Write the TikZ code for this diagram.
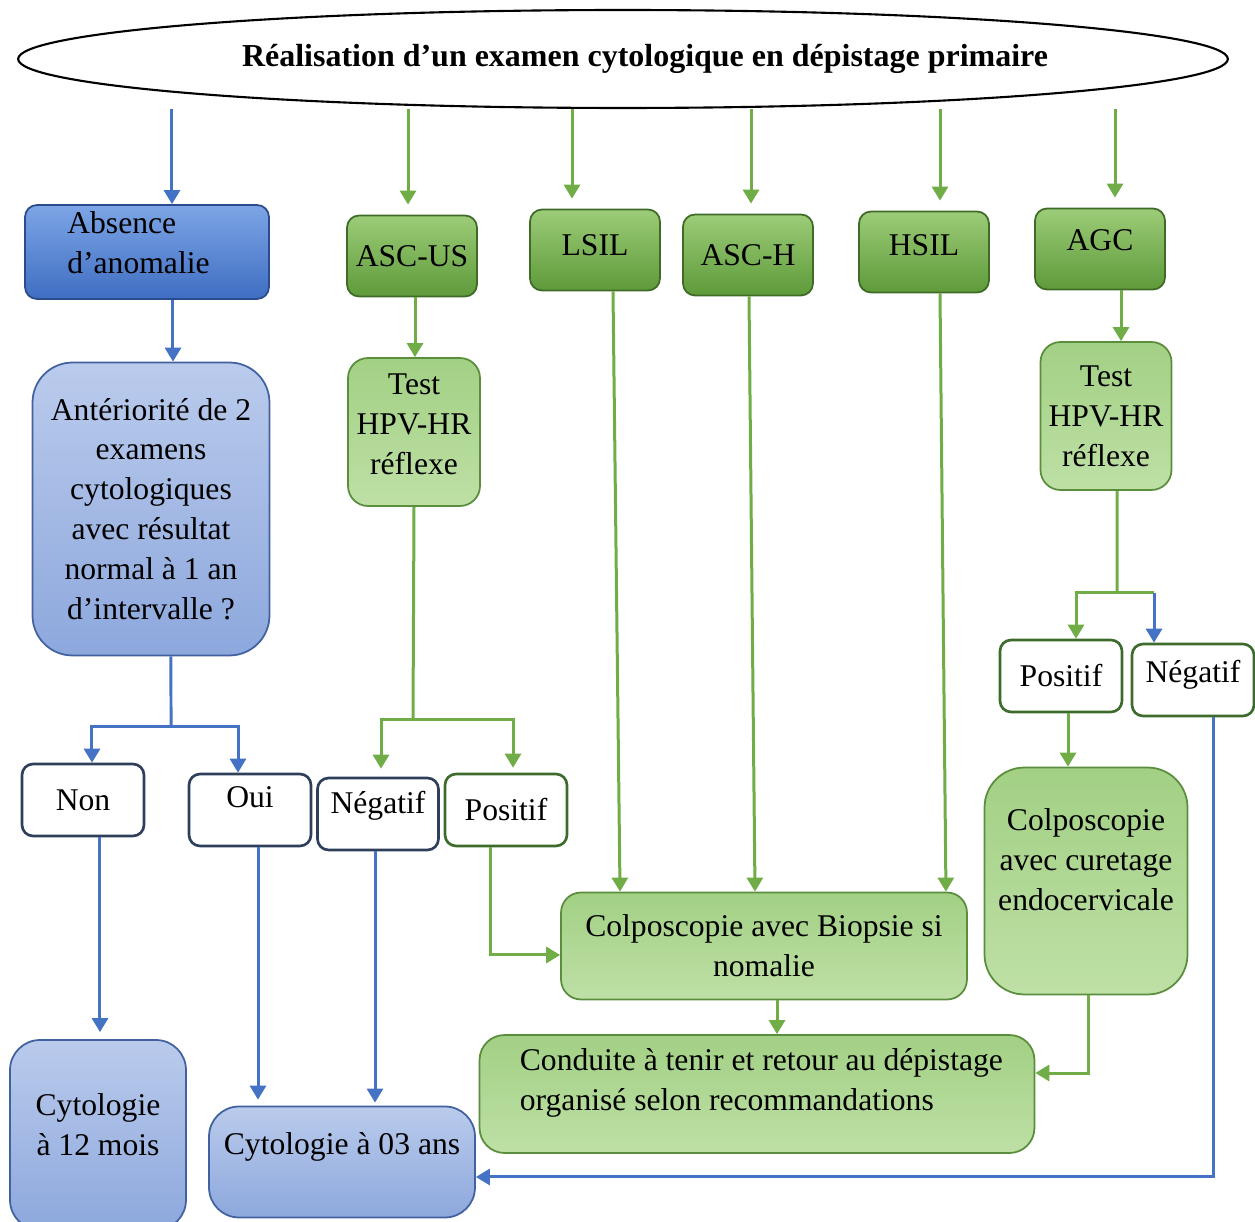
\documentclass[tikz,border=0pt]{standalone}
\usepackage{fontspec}
\setmainfont{Liberation Serif}
\usetikzlibrary{shapes.geometric,arrows.meta,calc}
\definecolor{arrBlue}{HTML}{4472C4}
\definecolor{arrGreen}{HTML}{70AD47}
\definecolor{grnTop}{HTML}{9CCC78}
\definecolor{grnBot}{HTML}{5E9A3A}
\definecolor{grnLine}{HTML}{3F6B27}
\definecolor{lgrnTop}{HTML}{A2D084}
\definecolor{lgrnBot}{HTML}{BEE0A6}
\definecolor{lgrnLine}{HTML}{5B8E3C}
\definecolor{dbTop}{HTML}{7DA5E6}
\definecolor{dbBot}{HTML}{3F6EC2}
\definecolor{dbLine}{HTML}{2B4C8C}
\definecolor{lbTop}{HTML}{BACBEC}
\definecolor{lbBot}{HTML}{8DA8DD}
\definecolor{lbLine}{HTML}{41619F}
\definecolor{navyLine}{HTML}{2E3F5C}
\definecolor{olLine}{HTML}{3D6B2C}

\begin{document}
\begin{tikzpicture}[x=0.02cm,y=-0.02cm,font=\fontsize{18}{22.7}\selectfont,
    cbox/.style={rounded corners=0.24cm,line width=1pt,inner sep=0pt,align=center},
    grn/.style={cbox,draw=grnLine,top color=grnTop,bottom color=grnBot,minimum width=2.6cm,minimum height=1.62cm},
    lgrn/.style={cbox,draw=lgrnLine,top color=lgrnTop,bottom color=lgrnBot},
    dblue/.style={cbox,draw=dbLine,top color=dbTop,bottom color=dbBot},
    lblue/.style={cbox,draw=lbLine,top color=lbTop,bottom color=lbBot},
    outl/.style={cbox,fill=white,line width=1.5pt,minimum width=2.44cm,minimum height=1.44cm,rounded corners=0.22cm},
    bline/.style={draw=arrBlue,line width=0.06cm},
    gline/.style={draw=arrGreen,line width=0.06cm},
    barrow/.style={bline,-{Triangle[length=0.28cm,width=0.32cm]}},
    garrow/.style={gline,-{Triangle[length=0.28cm,width=0.32cm]}}]
  \useasboundingbox (0,0) rectangle (1255,1222);

  % title
  \node[draw,ellipse,line width=1.2pt,minimum width=24.2cm,minimum height=1.96cm,inner sep=0pt,
    label={[xshift=0.44cm,font=\fontsize{18.2}{21}\selectfont\bfseries]center:Réalisation d’un examen cytologique en dépistage primaire}]
    (title) at (623,59) {};

  % first row
  \node[dblue,minimum width=4.88cm,minimum height=1.88cm,
    label={[anchor=west,xshift=0.74cm,yshift=0.18cm,align=left]west:Absence\\d’anomalie}] (absence) at (147,252) {};
  \node[grn] (ascus) at (412,256) {ASC-US};
  \node[grn,label={[yshift=0.1cm]center:LSIL}] (lsil) at (595,250) {};
  \node[grn] (asch) at (748,255) {ASC-H};
  \node[grn,label={[yshift=0.14cm]center:HSIL}] (hsil) at (924,252) {};
  \node[grn,label={[yshift=0.18cm]center:AGC}] (agc) at (1100,249) {};

  % second row
  \node[lblue,rounded corners=0.8cm,minimum width=4.74cm,minimum height=5.86cm] (ant) at (151,509)
    {Antériorité de 2\\examens\\cytologiques\\avec résultat\\normal à 1 an\\d’intervalle ?};
  \node[lgrn,rounded corners=0.4cm,minimum width=2.64cm,minimum height=2.96cm,
    label={[yshift=0.16cm,align=center]center:Test\\HPV-HR\\réflexe}] (testL) at (414,432) {};
  \node[lgrn,rounded corners=0.4cm,minimum width=2.62cm,minimum height=2.96cm] (testR) at (1106,416)
    {Test\\HPV-HR\\réflexe};

  % results
  \node[outl,draw=navyLine] (non) at (83,800) {Non};
  \node[outl,draw=navyLine,label={[yshift=0.26cm]center:Oui}] (oui) at (250,810) {};
  \node[outl,draw=navyLine,minimum width=2.42cm,label={[yshift=0.16cm]center:Négatif}] (negM) at (378,814) {};
  \node[outl,draw=olLine] (posM) at (506,810) {Positif};
  \node[outl,draw=olLine] (posR) at (1061,676) {Positif};
  \node[outl,draw=olLine,label={[yshift=0.1cm]center:Négatif}] (negR) at (1193,680) {};

  % bottom
  \node[lgrn,rounded corners=0.4cm,minimum width=8.12cm,minimum height=2.14cm] (colpoB) at (764,946)
    {Colposcopie avec Biopsie si\\nomalie};
  \node[lgrn,rounded corners=0.8cm,minimum width=4.06cm,minimum height=4.54cm,
    label={[yshift=0.42cm,align=center]center:Colposcopie\\avec curetage\\endocervicale}] (colpoC) at (1086,881) {};
  \node[lgrn,rounded corners=0.5cm,minimum width=11.1cm,minimum height=2.36cm,
    label={[anchor=west,xshift=0.7cm,yshift=0.22cm,align=left]west:Conduite à tenir et retour au dépistage\\organisé selon recommandations}] (conduite) at (757,1094) {};
  \node[lblue,rounded corners=0.6cm,minimum width=3.52cm,minimum height=3.8cm,
    label={[yshift=0.2cm,align=center]center:Cytologie\\à 12 mois}] (cyto12) at (98,1135) {};
  \node[lblue,rounded corners=0.6cm,minimum width=5.32cm,minimum height=2.22cm,
    label={[yshift=0.3cm]center:Cytologie à 03 ans}] (cyto03) at (342,1162) {};

  % from the title
  \draw[barrow] ([xshift=0.5cm]absence.north |- title.south) -- ([xshift=0.5cm]absence.north);
  \foreach \n/\dx in {ascus/-0.08,lsil/-0.46,asch/0.06,hsil/0.32,agc/0.3}
    \draw[garrow,shorten >=0.2cm] ([xshift=\dx cm]\n.north |- title.south) -- ([xshift=\dx cm]\n.north);

  % normal branch
  \draw[barrow] ([xshift=0.52cm]absence.south) -- ([xshift=0.52cm]absence.south |- ant.north);
  \coordinate (antsplit) at (171,727);
  \draw[bline] ([xshift=0.4cm]ant.south) -- (antsplit);
  \draw[barrow] (antsplit) -| ([xshift=0.18cm]non.north);
  \draw[barrow] (antsplit) -| ([xshift=-0.24cm]oui.north);
  \draw[barrow,shorten >=0.14cm] ([xshift=0.34cm]non.south) -- ([xshift=0.34cm]non.south |- cyto12.north);
  \draw[barrow,shorten >=0.12cm] ([xshift=0.16cm]oui.south) -- ([xshift=0.16cm]oui.south |- cyto03.north);
  \draw[barrow,shorten >=0.06cm] ([xshift=-0.06cm]negM.south) -- ([xshift=-0.06cm]negM.south |- cyto03.north);

  % ASC-US branch
  \draw[garrow] ([xshift=0.06cm]ascus.south) -- ([xshift=0.06cm]ascus.south |- testL.north);
  \coordinate (ascsplit) at (413,720);
  \draw[gline] (testL.south) -- (ascsplit);
  \draw[garrow,shorten >=0.16cm] (ascsplit) -| ([xshift=0.06cm]negM.north);
  \draw[garrow,shorten >=0.1cm] (ascsplit) -| ([xshift=0.14cm]posM.north);
  \draw[garrow] ([xshift=-0.32cm]posM.south) |- ([yshift=-0.18cm]colpoB.west);

  % LSIL, ASC-H, HSIL
  \foreach \n/\dx/\ex in {lsil/0.36/-2.88,asch/0.02/-0.18,hsil/0.32/3.64}
    \draw[garrow] ([xshift=\dx cm]\n.south) -- ([xshift=\ex cm]colpoB.north);
  \draw[garrow] ([xshift=0.26cm]colpoB.south) -- ([xshift=0.26cm]colpoB.south |- conduite.north);

  % AGC branch
  \draw[garrow] ([xshift=0.42cm]agc.south) -- ([xshift=0.42cm]agc.south |- testR.north);
  \coordinate (agcsplit) at (1117,593);
  \coordinate (negRin) at ([xshift=-0.78cm]negR.north);
  \draw[gline] ([xshift=0.22cm]testR.south) -- (agcsplit);
  \draw[garrow] (agcsplit) -| ([xshift=0.3cm]posR.north);
  \draw[gline] (agcsplit) -- (agcsplit -| negRin);
  \draw[barrow] (agcsplit -| negRin) -- (negRin);
  \draw[garrow] ([xshift=0.14cm]posR.south) -- ([xshift=0.14cm]posR.south |- colpoC.north);
  \draw[garrow] ([xshift=0.04cm]colpoC.south) |- ([yshift=0.42cm]conduite.east);
  \draw[barrow] ([xshift=0.4cm]negR.south) |- ([yshift=-0.3cm]cyto03.east);
\end{tikzpicture}
\end{document}
